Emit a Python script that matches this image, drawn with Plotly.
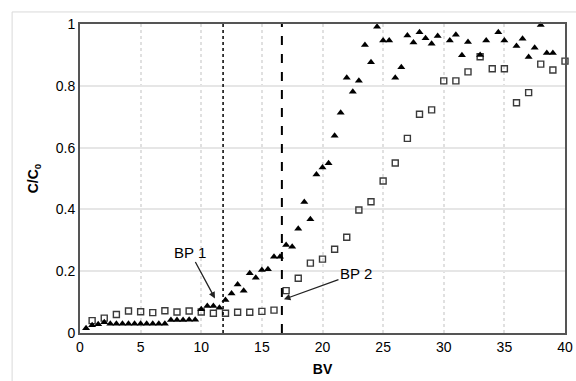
import plotly.graph_objects as go

# Triangles (series 1)
bv_tri = [0.5, 1.0, 1.5, 2.0, 2.5, 3.0, 3.5, 4.0, 4.5, 5.0, 5.5, 6.0, 6.5, 7.0,
          7.5, 8.0, 8.5, 9.0, 9.5, 10.0, 10.5, 11.0, 11.5, 12.0, 12.5, 13.0, 13.5,
          14.0, 14.5, 15.0, 15.5, 16.0, 16.5, 17.0, 17.5, 18.0, 18.5, 19.0, 19.5,
          20.0, 20.5, 21.0, 21.5, 22.0, 22.5, 23.0, 23.5, 24.0, 24.5, 25.0, 25.5,
          26.0, 26.5, 27.0, 27.5, 28.0, 28.5, 29.0, 29.5, 30.5, 31.0, 31.5, 32.0,
          33.0, 33.5, 34.5, 35.0, 36.0, 36.5, 37.0, 37.5, 38.0, 38.5, 39.0]
c_tri = [0.015, 0.025, 0.028, 0.035, 0.03, 0.03, 0.03, 0.03, 0.03, 0.03, 0.03, 0.03, 0.03, 0.03,
         0.042, 0.042, 0.042, 0.043, 0.043, 0.077, 0.087, 0.087, 0.082, 0.107, 0.128, 0.157, 0.137,
         0.193, 0.179, 0.204, 0.206, 0.247, 0.247, 0.285, 0.279, 0.337, 0.424, 0.368, 0.513,
         0.536, 0.549, 0.638, 0.713, 0.826, 0.781, 0.816, 0.932, 0.876, 0.991, 0.947, 0.947,
         0.826, 0.86, 0.963, 0.94, 0.973, 0.954, 0.936, 0.961, 0.947, 0.965, 0.899, 0.942,
         0.9, 0.947, 0.973, 0.947, 0.929, 0.952, 0.893, 0.923, 0.997, 0.906, 0.906]

# Squares (series 2)
bv_sq = [1, 2, 3, 4, 5, 6, 7, 8, 9, 10, 11, 12, 13, 14, 15, 16, 17, 18, 19, 20,
         21, 22, 23, 24, 25, 26, 27, 28, 29, 30, 31, 32, 33, 34, 35, 36, 37, 38, 39, 40]
c_sq = [0.04, 0.048, 0.06, 0.071, 0.069, 0.066, 0.072, 0.068, 0.071, 0.068, 0.064, 0.064,
        0.067, 0.067, 0.07, 0.074, 0.137, 0.177, 0.226, 0.239, 0.271, 0.31, 0.398, 0.425,
        0.492, 0.55, 0.63, 0.708, 0.722, 0.816, 0.816, 0.845, 0.894, 0.855, 0.855, 0.745,
        0.778, 0.87, 0.851, 0.88]

bp1_bv = 11.8
bp2_bv = 16.65
x_ticks = [0, 5, 10, 15, 20, 25, 30, 35, 40]
y_ticks = [0, 0.2, 0.4, 0.6, 0.8, 1]
y_tick_labels = ["0", "0.2", "0.4", "0.6", "0.8", "1"]

FONT = "Liberation Sans, Arial, sans-serif"

fig = go.Figure()
fig.add_trace(go.Scatter(x=bv_sq, y=c_sq, mode="markers",
                         marker=dict(symbol="square-open", size=6, color="#3a3a3a",
                                     line=dict(width=1.4, color="#3a3a3a")),
                         showlegend=False, cliponaxis=False))
fig.add_trace(go.Scatter(x=bv_tri, y=c_tri, mode="markers",
                         marker=dict(symbol="triangle-up", size=7, color="black"),
                         showlegend=False, cliponaxis=False))

# breakpoint lines
fig.add_shape(type="line", x0=bp1_bv, x1=bp1_bv, y0=0, y1=1, xref="x", yref="y",
              line=dict(color="black", width=1.5, dash="dot"))
fig.add_shape(type="line", x0=bp2_bv, x1=bp2_bv, y0=0, y1=1, xref="x", yref="y",
              line=dict(color="black", width=2, dash="dash"))

# outer chart frame (light)
fig.add_shape(type="rect", xref="paper", yref="paper",
              x0=-0.14, x1=1.2, y0=-0.3, y1=1.039,
              line=dict(color="#d9d9d9", width=1), layer="below")

# annotations (text at arrow tail)
fig.add_annotation(x=11.13, y=0.112, ax=9.07, ay=0.262, axref="x", ayref="y",
                   xref="x", yref="y", text="BP 1", showarrow=True, arrowhead=2,
                   arrowsize=1, arrowwidth=1.3, arrowcolor="#222",
                   font=dict(family=FONT, size=15, color="black"))
fig.add_annotation(x=16.82, y=0.109, ax=22.76, ay=0.193, axref="x", ayref="y",
                   xref="x", yref="y", text="BP 2", showarrow=True, arrowhead=2,
                   arrowsize=1, arrowwidth=1.3, arrowcolor="#222",
                   font=dict(family=FONT, size=15, color="black"))

fig.update_layout(
    width=576, height=381, autosize=False,
    margin=dict(l=80, r=11, t=24, b=48),
    paper_bgcolor="white", plot_bgcolor="white",
    font=dict(family=FONT, size=14, color="black"),
    xaxis=dict(range=[0, 40], tickvals=x_ticks, showgrid=True, gridcolor="#e0e0e0",
               griddash="dot", gridwidth=1.5, showline=True, mirror=True,
               linecolor="#555", linewidth=2, zeroline=False, ticks="",
               automargin=False,
               title=dict(text="<b>BV</b>", font=dict(size=14), standoff=10),
               tickfont=dict(size=14)),
    yaxis=dict(range=[0, 1], tickvals=y_ticks, ticktext=y_tick_labels, showgrid=True,
               gridcolor="#e6e6e6", gridwidth=1.5, showline=True, mirror=True,
               linecolor="#555", linewidth=2, zeroline=False, ticks="",
               automargin=False,
               title=dict(text="<b>C/C<sub>0</sub></b>", font=dict(size=14), standoff=14),
               tickfont=dict(size=14)),
)

fig.write_html("out.html", config={"displayModeBar": False, "responsive": False},
               post_script="document.body.style.margin='0';")
